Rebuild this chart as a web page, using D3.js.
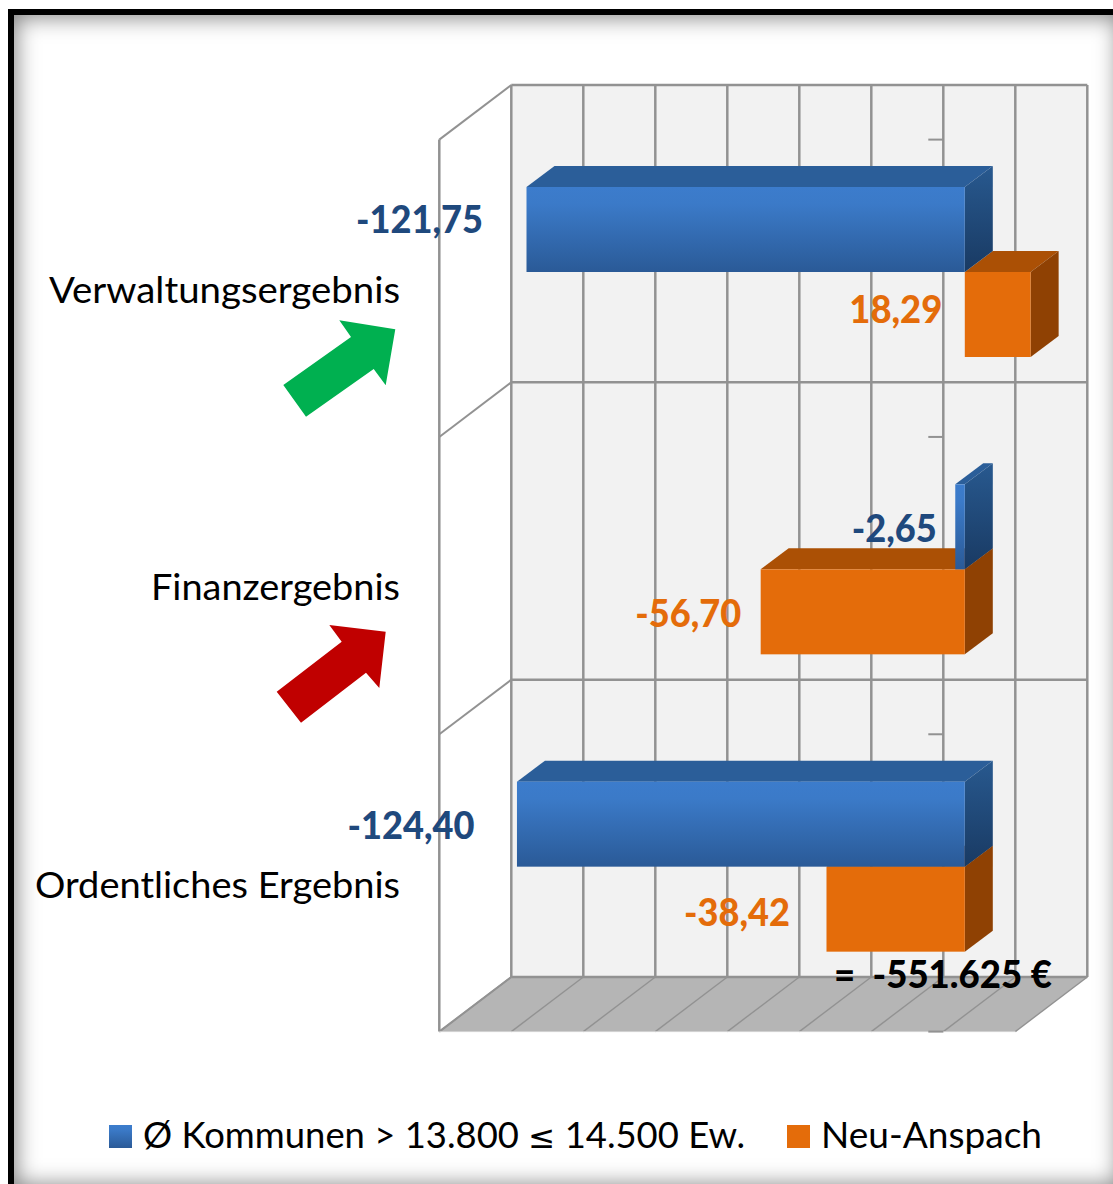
<!DOCTYPE html>
<html><head><meta charset="utf-8">
<script src="https://cdn.jsdelivr.net/npm/d3@7/dist/d3.min.js"></script>
<style>
html,body{margin:0;padding:0;background:#fff;overflow:hidden;width:1113px;height:1184px}
#frame{position:absolute;left:8px;top:9px;width:1106px;height:1172px;border:6px solid #000;border-right-width:0;box-shadow:inset 0 0 22px 2px rgba(0,0,0,.5);box-sizing:content-box;overflow:hidden}
svg{position:absolute;left:0;top:0}
</style></head><body>
<div id="frame"></div>
<svg id="c" width="1113" height="1184"></svg>
<script>
const categories = ["Verwaltungsergebnis","Finanzergebnis","Ordentliches Ergebnis"];
const communes = [-121.75,-2.65,-124.40];
const neuAnspach = [18.29,-56.70,-38.42];
const communesLabels = ["-121,75","-2,65","-124,40"];
const neuAnspachLabels = ["18,29","-56,70","-38,42"];
const seriesNames = ["Ø Kommunen > 13.800 ≤ 14.500 Ew.","Neu-Anspach"];
const totalLabel = "=  -551.625 €";
const gridValues = d3.range(-120,41,20);
const font = "Lato, 'Noto Sans', sans-serif";

const svg = d3.select("#c");
const x = d3.scaleLinear().domain([-120,40]).range([511.3,1087.3]);
const y = d3.scaleBand().domain(categories).range([85,977]);
const depth = {dx:-72, dy:54.6};
const bar = {dx:28, dy:-21, shift:22, top:102, h:85};
const grey = "#929292";
const defs = svg.append("defs");
function grad(id,stops,x2,y2){
  const g = defs.append("linearGradient").attr("id",id).attr("x1",0).attr("y1",0).attr("x2",x2).attr("y2",y2);
  stops.forEach(s=>g.append("stop").attr("offset",s[0]).attr("stop-color",s[1]));
}
grad("bf",[[0,"#3c7ccc"],[.2,"#3b7ac8"],[1,"#2a5a97"]],0,1);
grad("bs",[[0,"#28598f"],[1,"#193a63"]],0,1);
const C = {
  blue:{front:"url(#bf)",top:"#2b5e99",side:"url(#bs)",text:"#1f497d"},
  orange:{front:"#e46c0a",top:"#ab5005",side:"#8f4103",text:"#e46c0a"}
};
const pts = a=>a.map(p=>p.join(",")).join(" ");

// walls
const L=x.range()[0], R=x.range()[1], T=y.range()[0], B=y.range()[1];
svg.append("polygon").attr("points",pts([[L,T],[R,T],[R,B],[L,B]])).attr("fill","#f2f2f2");
svg.append("polygon").attr("points",pts([[L+depth.dx,B+depth.dy],[R+depth.dx,B+depth.dy],[R,B],[L,B]])).attr("fill","#b5b5b5");
// vertical grid
svg.append("g").selectAll("line").data(gridValues).join("line")
  .attr("x1",d=>x(d)).attr("x2",d=>x(d)).attr("y1",T).attr("y2",B)
  .attr("stroke",grey).attr("stroke-width",2.5);
// floor grid
svg.append("g").selectAll("line").data(gridValues).join("line")
  .attr("x1",d=>x(d)).attr("x2",d=>x(d)+depth.dx).attr("y1",B).attr("y2",B+depth.dy)
  .attr("stroke",grey).attr("stroke-width",1.4);
// band lines, left wall diagonals, ticks
const bandEdges = categories.map(c=>y(c)).concat([B]);
svg.append("g").selectAll("line").data(bandEdges).join("line")
  .attr("x1",L).attr("x2",R).attr("y1",d=>d).attr("y2",d=>d).attr("stroke",grey).attr("stroke-width",2.5);
svg.append("g").selectAll("line").data(bandEdges).join("line")
  .attr("x1",L).attr("x2",L+depth.dx).attr("y1",d=>d).attr("y2",d=>d+depth.dy).attr("stroke",grey).attr("stroke-width",2);
svg.append("line").attr("x1",L+depth.dx).attr("x2",L+depth.dx).attr("y1",T+depth.dy).attr("y2",B+depth.dy).attr("stroke",grey).attr("stroke-width",2.5);
svg.append("line").attr("x1",L+depth.dx).attr("x2",R+depth.dx).attr("y1",B+depth.dy).attr("y2",B+depth.dy).attr("stroke","#d0d0d0").attr("stroke-width",1);
svg.append("g").selectAll("line").data(bandEdges).join("line")
  .attr("x1",x(0)-15).attr("x2",x(0)).attr("y1",d=>d+depth.dy).attr("y2",d=>d+depth.dy).attr("stroke",grey).attr("stroke-width",2);

// 3D bars
function drawBar(v,band,offset,c){
  const z = x(0)+bar.shift-0.5, e = x(v)+bar.shift-0.5;
  const x0=Math.min(z,e), x1=Math.max(z,e);
  const y0=y(band)+bar.top+offset, y1=y0+bar.h;
  const g=svg.append("g");
  g.append("polygon").attr("points",pts([[x0,y0],[x0+bar.dx,y0+bar.dy],[x1+bar.dx,y0+bar.dy],[x1,y0]])).attr("fill",c.top);
  g.append("polygon").attr("points",pts([[x1,y0],[x1+bar.dx,y0+bar.dy],[x1+bar.dx,y1+bar.dy],[x1,y1]])).attr("fill",c.side);
  g.append("rect").attr("x",x0).attr("y",y0).attr("width",x1-x0).attr("height",bar.h).attr("fill",c.front);
}
categories.forEach((cat,i)=>{
  drawBar(neuAnspach[i],cat,bar.h,C.orange);
  drawBar(communes[i],cat,0,C.blue);
});

const labelStyle = s=>s.attr("font-family",font);
// Category labels, stretched to the reference's text widths
const categoryWidths=[351,249,365];
svg.append("g").selectAll("text").data(categories).join("text").call(labelStyle)
  .attr("x",400).attr("y",d=>y(d)+218).attr("text-anchor","end").attr("font-size",36).attr("fill","#000")
  .attr("textLength",(d,i)=>categoryWidths[i]).attr("lengthAdjust","spacingAndGlyphs").text(d=>d);

// Value labels (right edge of the text, relative to bar end)
const communesGap=[44,19,43], orangeGap=[0,20,37];
const communesWidths=[127,85,127], orangeWidths=[93,106,106];
const valueFont=37;
categories.forEach((cat,i)=>{
  const zero=x(0)+bar.shift;
  svg.append("text").call(labelStyle).attr("font-weight",900).attr("font-size",valueFont).attr("fill",C.blue.text)
    .attr("text-anchor","end").attr("x",x(communes[i])+bar.shift-communesGap[i]).attr("y",y(cat)+[148,160,159][i])
    .attr("textLength",communesWidths[i]).attr("lengthAdjust","spacingAndGlyphs")
    .text(communesLabels[i]);
  const ox = neuAnspach[i]>0 ? zero-23 : x(neuAnspach[i])+bar.shift-orangeGap[i];
  svg.append("text").call(labelStyle).attr("font-weight",900).attr("font-size",valueFont).attr("fill",C.orange.text)
    .attr("text-anchor","end").attr("x",ox).attr("y",y(cat)+[238,245,246][i])
    .attr("textLength",orangeWidths[i]).attr("lengthAdjust","spacingAndGlyphs")
    .text(neuAnspachLabels[i]);
});
svg.append("text").call(labelStyle).attr("font-weight",900).attr("font-size",37).attr("fill","#000")
  .style("white-space","pre").attr("text-anchor","end").attr("x",1052).attr("y",988)
  .attr("textLength",218).attr("lengthAdjust","spacingAndGlyphs").text(totalLabel);

// Arrows
const greenArrow=[[283.3,385],[306,416.7],[373.7,369],[385.7,385.3],[395.3,329.3],[339.3,320.3],[351,337]];
const redArrow=[[276.7,691.7],[301,722.7],[366,672.7],[379.3,688],[385.7,631.7],[329.3,625],[341.7,641.7]];
svg.append("polygon").attr("points",pts(greenArrow)).attr("fill","#00b050");
svg.append("polygon").attr("points",pts(redArrow)).attr("fill","#c00000");

// Legend
svg.append("rect").attr("x",109).attr("y",1125).attr("width",23).attr("height",23).attr("fill","url(#bf)");
svg.append("rect").attr("x",787).attr("y",1125).attr("width",23).attr("height",23).attr("fill",C.orange.front);
const legendX=[143,821], legendW=[602,221];
svg.selectAll(".lg").data(seriesNames).join("text").attr("class","lg").call(labelStyle)
  .attr("x",(d,i)=>legendX[i]).attr("y",1148).attr("font-size",36).attr("fill","#000")
  .attr("textLength",(d,i)=>legendW[i]).attr("lengthAdjust","spacingAndGlyphs")
  .each(function(d){
    const t=d3.select(this);
    d.split(/(≤)/).forEach(part=>{
      const s=t.append("tspan").text(part);
      if(part==="≤") s.attr("font-family","'DejaVu Sans'").attr("font-size",32);
    });
  });
</script>
</body></html>
